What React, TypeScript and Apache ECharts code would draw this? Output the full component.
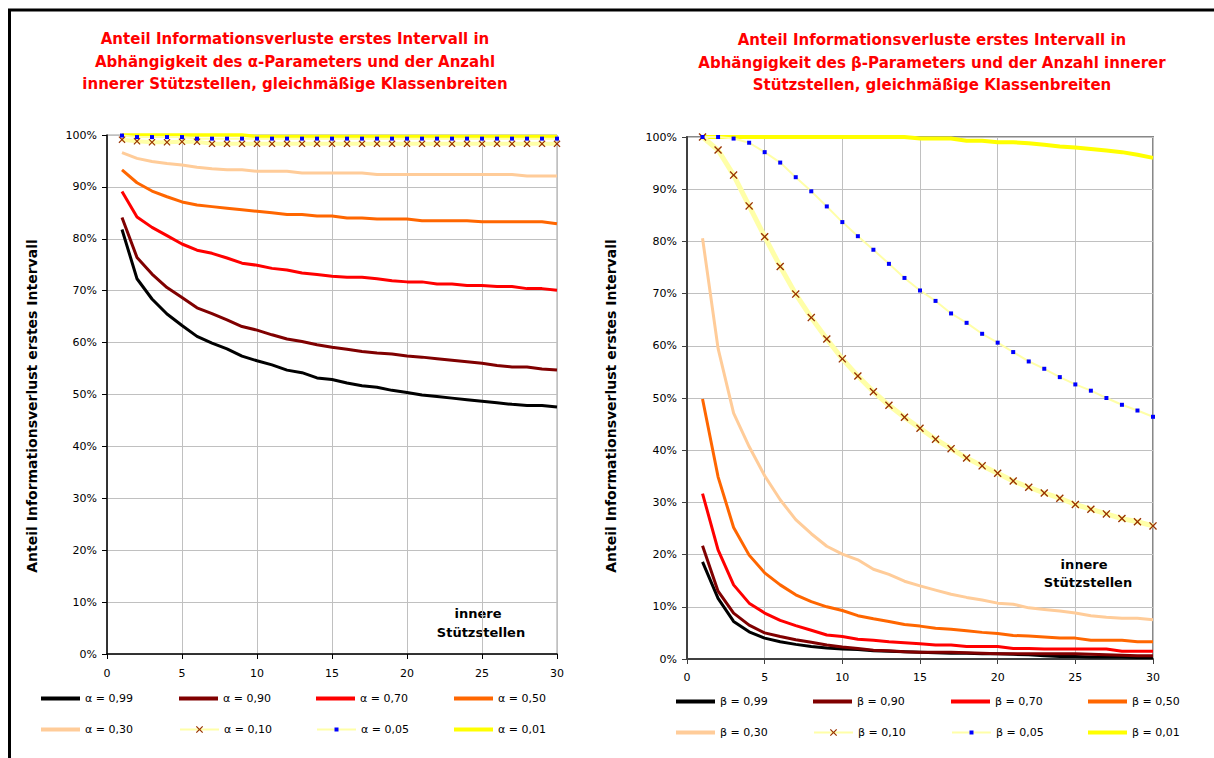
import React, { useEffect, useRef } from "react";
import * as echarts from "echarts";

// ---------- data ----------
const xValues = [1, 2, 3, 4, 5, 6, 7, 8, 9, 10, 11, 12, 13, 14, 15, 16, 17, 18, 19, 20, 21, 22, 23, 24, 25, 26, 27, 28, 29, 30];

const alphaNames = ["α = 0,99", "α = 0,90", "α = 0,70", "α = 0,50", "α = 0,30", "α = 0,10", "α = 0,05", "α = 0,01"];
const betaNames = ["β = 0,99", "β = 0,90", "β = 0,70", "β = 0,50", "β = 0,30", "β = 0,10", "β = 0,05", "β = 0,01"];

const alpha099 = [81.8, 72.3, 68.4, 65.5, 63.3, 61.2, 59.9, 58.8, 57.4, 56.5, 55.7, 54.7, 54.2, 53.2, 52.9, 52.2, 51.7, 51.4, 50.8, 50.4, 49.9, 49.6, 49.3, 49.0, 48.7, 48.4, 48.1, 47.9, 47.9, 47.6];
const alpha090 = [84.1, 76.4, 73.2, 70.6, 68.7, 66.7, 65.6, 64.4, 63.1, 62.4, 61.5, 60.7, 60.2, 59.6, 59.1, 58.7, 58.3, 58.0, 57.8, 57.4, 57.2, 56.9, 56.6, 56.3, 56.0, 55.6, 55.3, 55.3, 54.9, 54.7];
const alpha070 = [89.1, 84.2, 82.2, 80.6, 79.0, 77.8, 77.2, 76.3, 75.3, 74.9, 74.3, 74.0, 73.4, 73.1, 72.8, 72.6, 72.6, 72.3, 71.9, 71.7, 71.7, 71.3, 71.3, 71.0, 71.0, 70.8, 70.8, 70.4, 70.4, 70.1];
const alpha050 = [93.3, 90.8, 89.2, 88.1, 87.1, 86.5, 86.2, 85.9, 85.6, 85.3, 85.0, 84.7, 84.7, 84.4, 84.4, 84.0, 84.0, 83.8, 83.8, 83.8, 83.5, 83.5, 83.5, 83.5, 83.3, 83.3, 83.3, 83.3, 83.3, 82.9];
const alpha030 = [96.6, 95.5, 94.9, 94.5, 94.2, 93.8, 93.5, 93.3, 93.3, 93.0, 93.0, 93.0, 92.7, 92.7, 92.7, 92.7, 92.7, 92.4, 92.4, 92.4, 92.4, 92.4, 92.4, 92.4, 92.4, 92.4, 92.4, 92.1, 92.1, 92.1];
const alpha010 = [99.1, 98.8, 98.6, 98.6, 98.7, 98.7, 98.3, 98.3, 98.3, 98.3, 98.3, 98.3, 98.3, 98.3, 98.3, 98.3, 98.3, 98.3, 98.3, 98.3, 98.3, 98.3, 98.3, 98.3, 98.3, 98.3, 98.3, 98.3, 98.3, 98.3];
const alpha005 = [99.9, 99.6, 99.6, 99.6, 99.6, 99.3, 99.3, 99.3, 99.3, 99.3, 99.3, 99.3, 99.3, 99.3, 99.3, 99.3, 99.3, 99.3, 99.3, 99.3, 99.3, 99.3, 99.3, 99.3, 99.3, 99.3, 99.3, 99.3, 99.3, 99.3];
const alpha001 = [100, 100, 100, 100, 100, 100, 100, 100, 100, 99.7, 99.7, 99.7, 99.7, 99.7, 99.7, 99.7, 99.7, 99.7, 99.7, 99.7, 99.7, 99.7, 99.7, 99.7, 99.7, 99.7, 99.7, 99.7, 99.7, 99.7];

const beta099 = [18.6, 11.6, 7.2, 5.2, 4.0, 3.3, 2.8, 2.4, 2.1, 1.9, 1.8, 1.6, 1.5, 1.4, 1.3, 1.2, 1.1, 1.1, 1.0, 1.0, 0.9, 0.8, 0.6, 0.5, 0.5, 0.4, 0.4, 0.4, 0.3, 0.3];
const beta090 = [21.7, 13.0, 8.8, 6.5, 5.0, 4.3, 3.7, 3.2, 2.7, 2.3, 2.0, 1.7, 1.6, 1.4, 1.3, 1.3, 1.3, 1.2, 1.1, 1.0, 1.0, 1.0, 1.0, 1.0, 1.0, 0.9, 0.8, 0.7, 0.6, 0.6];
const beta070 = [31.7, 20.9, 14.2, 10.7, 8.8, 7.4, 6.4, 5.5, 4.6, 4.3, 3.8, 3.6, 3.3, 3.1, 2.9, 2.7, 2.7, 2.4, 2.4, 2.4, 2.0, 2.0, 1.9, 1.9, 1.9, 1.9, 1.9, 1.5, 1.5, 1.5];
const beta050 = [49.8, 34.9, 25.2, 19.9, 16.5, 14.2, 12.3, 11.0, 10.0, 9.3, 8.3, 7.7, 7.2, 6.6, 6.3, 5.9, 5.7, 5.4, 5.1, 4.9, 4.5, 4.4, 4.2, 4.0, 4.0, 3.6, 3.6, 3.6, 3.3, 3.3];
const beta030 = [80.6, 59.5, 47.1, 40.7, 35.1, 30.5, 26.7, 24.0, 21.6, 20.1, 19.0, 17.2, 16.2, 14.9, 14.0, 13.2, 12.4, 11.8, 11.3, 10.7, 10.5, 9.8, 9.5, 9.2, 8.8, 8.3, 8.0, 7.8, 7.8, 7.5];
const beta010 = [100, 97.5, 92.7, 86.8, 80.9, 75.2, 69.9, 65.4, 61.3, 57.5, 54.2, 51.2, 48.6, 46.3, 44.2, 42.1, 40.3, 38.5, 37.0, 35.6, 34.1, 32.9, 31.8, 30.8, 29.6, 28.7, 27.8, 26.9, 26.3, 25.5];
const beta005 = [100, 100, 99.7, 98.9, 97.1, 95.1, 92.3, 89.6, 86.7, 83.7, 81.0, 78.4, 75.7, 73.0, 70.6, 68.6, 66.2, 64.4, 62.3, 60.6, 58.8, 57.0, 55.6, 54.0, 52.6, 51.4, 50.0, 48.7, 47.6, 46.4];
const beta001 = [100, 100, 100, 100, 100, 100, 100, 100, 100, 100, 100, 100, 100, 100, 99.7, 99.7, 99.7, 99.3, 99.3, 99.0, 99.0, 98.8, 98.5, 98.2, 98.0, 97.7, 97.4, 97.1, 96.6, 96.0];

const alphaData = [alpha099, alpha090, alpha070, alpha050, alpha030, alpha010, alpha005, alpha001];
const betaData = [beta099, beta090, beta070, beta050, beta030, beta010, beta005, beta001];

const leftTitle = [
  "Anteil Informationsverluste erstes Intervall in",
  "Abhängigkeit des α-Parameters und der Anzahl",
  "innerer Stützstellen, gleichmäßige Klassenbreiten",
];
const rightTitle = [
  "Anteil Informationsverluste erstes Intervall in",
  "Abhängigkeit des β-Parameters und der Anzahl innerer",
  "Stützstellen, gleichmäßige Klassenbreiten",
];
const yTitle = "Anteil Informationsverlust erstes Intervall";
const xNote = ["innere", "Stützstellen"];

// ---------- styles ----------
const FONT = "'DejaVu Sans', sans-serif";
const X_PATH = "path://M0,1.2L1.2,0L5,3.8L8.8,0L10,1.2L6.2,5L10,8.8L8.8,10L5,6.2L1.2,10L0,8.8L3.8,5Z";

type St = { color: string; width: number; symbol?: string; symbolSize?: number; symbolColor?: string };
const stylesLeft: St[] = [
  { color: "#000000", width: 3 },
  { color: "#800000", width: 3 },
  { color: "#FF0000", width: 3 },
  { color: "#FF6600", width: 3 },
  { color: "#FFCC99", width: 3 },
  { color: "#FFFFA8", width: 4, symbol: X_PATH, symbolSize: 7, symbolColor: "#993300" },
  { color: "#FFFFA8", width: 2, symbol: "rect", symbolSize: 4, symbolColor: "#0000FF" },
  { color: "#FFFF00", width: 3.5 },
];
const stylesRight: St[] = [
  { color: "#000000", width: 3 },
  { color: "#800000", width: 3 },
  { color: "#FF0000", width: 3 },
  { color: "#FF6600", width: 3 },
  { color: "#FFCC99", width: 3 },
  { color: "#FFFFA8", width: 5, symbol: X_PATH, symbolSize: 8, symbolColor: "#993300" },
  { color: "#FFFFA8", width: 2, symbol: "rect", symbolSize: 4, symbolColor: "#0000FF" },
  { color: "#FFFF00", width: 4 },
];

function buildSeries(names: string[], data: number[][], styles: St[], g: number) {
  return names.map((name, i) => {
    const s = styles[i];
    const hasSym = !!s.symbol;
    return {
      type: "line",
      name,
      xAxisIndex: g,
      yAxisIndex: g,
      data: xValues.map((x, k) => [x, data[i][k]]),
      symbol: hasSym ? s.symbol : "none",
      symbolSize: s.symbolSize || 0,
      showSymbol: hasSym,
      itemStyle: { color: hasSym ? s.symbolColor : s.color, borderWidth: 0 },
      lineStyle: { color: s.color, width: s.width },
      z: hasSym ? 4 : 2,
      clip: false,
      silent: true,
    };
  });
}

function buildLegends(names: string[], styles: St[], cols: number[], rows: number[]) {
  return names.map((name, i) => {
    const s = styles[i];
    const col = cols[i % 4];
    const row = rows[Math.floor(i / 4)];
    const isX = s.symbol && s.symbol !== "rect";
    const isDot = s.symbol === "rect";
    const h = isX ? 9 : isDot ? 5 : 4;
    const base: any = {
      show: true,
      data: [name],
      left: col,
      top: row - 7,
      padding: 0,
      itemWidth: 39,
      itemHeight: h,
      selectedMode: false,
      textStyle: { fontFamily: FONT, fontSize: 11, color: "#000" },
    };
    if (!s.symbol) base.icon = "rect";
    return base;
  });
}

function axisX(g: number, axisColor: string, axisWidth: number, margin: number) {
  return {
    gridIndex: g,
    type: "value",
    min: 0,
    max: 30,
    interval: 5,
    axisLine: { show: true, onZero: false, lineStyle: { color: axisColor, width: axisWidth } },
    axisTick: { show: true, length: 5, lineStyle: { color: axisColor, width: 1 } },
    axisLabel: { margin, color: "#000", fontFamily: FONT, fontSize: 11 },
    splitLine: { show: true, lineStyle: { color: "#C0C0C0", width: 1 } },
  };
}
function axisY(g: number, axisColor: string, axisWidth: number) {
  return {
    gridIndex: g,
    type: "value",
    min: 0,
    max: 100,
    interval: 10,
    axisLine: { show: true, onZero: false, lineStyle: { color: axisColor, width: axisWidth } },
    axisTick: { show: true, length: 5, lineStyle: { color: axisColor, width: 1 } },
    axisLabel: { margin: 10, color: "#000", fontFamily: FONT, fontSize: 11, formatter: "{value}%" },
    splitLine: { show: true, lineStyle: { color: "#C0C0C0", width: 1 } },
  };
}

function txt(text: string, x: number, y: number, font: string, fill: string, rotation = 0) {
  return {
    type: "text",
    x,
    y,
    rotation,
    silent: true,
    style: {
      text,
      fill,
      font,
      textAlign: "center",
      align: "center",
      textVerticalAlign: "middle",
      verticalAlign: "middle",
    },
  };
}

export default function App() {
  const ref = useRef<HTMLDivElement>(null);
  useEffect(() => {
    document.body.style.margin = "0";
    document.body.style.overflow = "hidden";
    if (!ref.current) return;
    const chart = echarts.init(ref.current, null, { renderer: "svg" });
    const titleFont = `bold 15px ${FONT}`;
    const graphic: any[] = [
      { type: "line", silent: true, shape: { x1: 8, y1: 10, x2: 1214, y2: 10 }, style: { stroke: "#000", lineWidth: 3 } },
      { type: "line", silent: true, shape: { x1: 9.5, y1: 9, x2: 9.5, y2: 758 }, style: { stroke: "#000", lineWidth: 3 } },
    ];
    const ys = [39, 62, 84];
    leftTitle.forEach((t, i) => graphic.push(txt(t, 295, ys[i], titleFont, "#FF0000")));
    rightTitle.forEach((t, i) => graphic.push(txt(t, 932, ys[i] + 1, titleFont, "#FF0000")));
    graphic.push(txt(yTitle, 32, 406, `bold 14px ${FONT}`, "#000", Math.PI / 2));
    graphic.push(txt(yTitle, 611, 406, `bold 14px ${FONT}`, "#000", Math.PI / 2));
    graphic.push(txt(xNote[0], 478, 613, `bold 13px ${FONT}`, "#000"));
    graphic.push(txt(xNote[1], 481, 632, `bold 13px ${FONT}`, "#000"));
    graphic.push(txt(xNote[0], 1084, 564, `bold 13px ${FONT}`, "#000"));
    graphic.push(txt(xNote[1], 1088, 582, `bold 13px ${FONT}`, "#000"));

    const option: any = {
      animation: false,
      backgroundColor: "#FFFFFF",
      textStyle: { fontFamily: FONT },
      grid: [
        { left: 107, top: 135, width: 450, height: 519, show: true, borderColor: "#A0A0A0", borderWidth: 1, backgroundColor: "transparent" },
        { left: 687, top: 137, width: 466, height: 522, show: true, borderColor: "#888888", borderWidth: 2, backgroundColor: "transparent" },
      ],
      xAxis: [axisX(0, "#000000", 1.5, 14), axisX(1, "#404040", 2, 13)],
      yAxis: [axisY(0, "#000000", 1.5), axisY(1, "#404040", 2)],
      legend: [
        ...buildLegends(alphaNames, stylesLeft, [41, 179, 316, 454], [700, 731]),
        ...buildLegends(betaNames, stylesRight, [676, 813, 951, 1088], [703, 734]),
      ],
      series: [
        ...buildSeries(alphaNames, alphaData, stylesLeft, 0),
        ...buildSeries(betaNames, betaData, stylesRight, 1),
      ],
      graphic,
    };
    chart.setOption(option);
    return () => chart.dispose();
  }, []);
  return <div ref={ref} style={{ width: 1214, height: 758 }} />;
}
